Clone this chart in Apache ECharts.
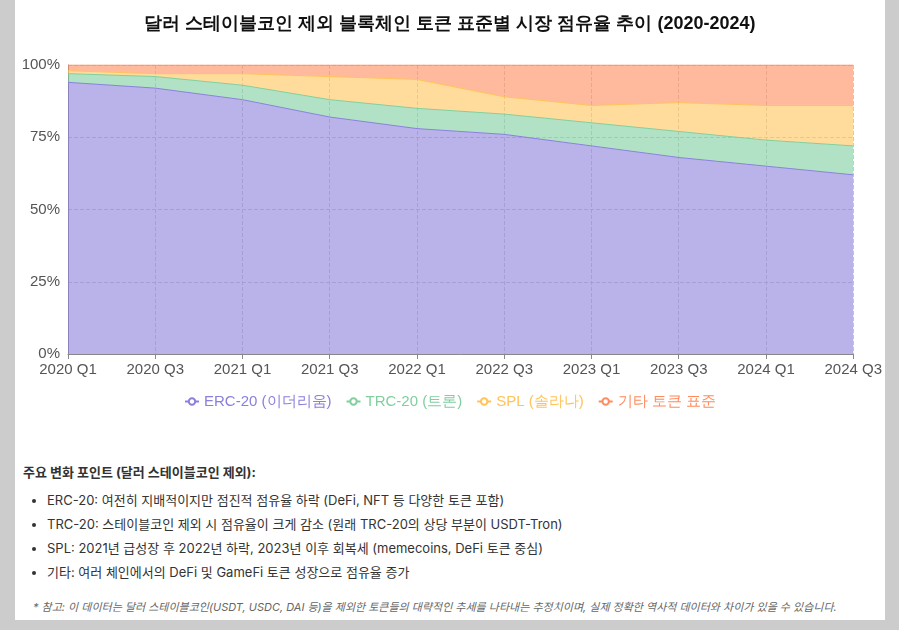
<!DOCTYPE html>
<html><head><meta charset="utf-8">
<script src="https://cdn.jsdelivr.net/npm/echarts@6/dist/echarts.min.js"></script>
<style>
html,body{margin:0;padding:0;background:#cccccc;font-family:Inter,"Noto Sans CJK KR",sans-serif;}
#card{position:absolute;left:15px;top:0;width:870px;height:620px;background:#fff;}
#chart{position:absolute;left:0;top:0;width:870px;height:420px;}
#notes{position:absolute;left:8px;top:462px;width:860px;font-size:13px;color:#333;}
#notes h4{margin:0 0 10px 0;font-size:13px;font-weight:bold;}
#notes ul{margin:0;padding-left:24px;}
#notes li{margin-bottom:6px;line-height:18px;}
#foot{position:absolute;left:18px;top:598px;font-size:11px;font-style:italic;color:#666;}
</style></head><body>
<div id="card"><div id="chart"></div>
<div id="notes"><h4>주요 변화 포인트 (달러 스테이블코인 제외):</h4>
<ul>
<li>ERC-20: 여전히 지배적이지만 점진적 점유율 하락 (DeFi, NFT 등 다양한 토큰 포함)</li>
<li>TRC-20: 스테이블코인 제외 시 점유율이 크게 감소 (원래 TRC-20의 상당 부분이 USDT-Tron)</li>
<li>SPL: 2021년 급성장 후 2022년 하락, 2023년 이후 회복세 (memecoins, DeFi 토큰 중심)</li>
<li>기타: 여러 체인에서의 DeFi 및 GameFi 토큰 성장으로 점유율 증가</li>
</ul></div>
<div id="foot">* 참고: 이 데이터는 달러 스테이블코인(USDT, USDC, DAI 등)을 제외한 토큰들의 대략적인 추세를 나타내는 추정치이며, 실제 정확한 역사적 데이터와 차이가 있을 수 있습니다.</div>
</div>
<script>
const categories=["2020 Q1","2020 Q3","2021 Q1","2021 Q3","2022 Q1","2022 Q3","2023 Q1","2023 Q3","2024 Q1","2024 Q3"];
const erc20=[94,92,88,82,78,76,72,68,65,62];
const trc20=[3,4,5,6,7,7,8,9,9,10];
const spl=[1,1,4,8,10,6,6,10,12,14];
const other=[2,3,3,4,5,11,14,13,14,14];
const names=["ERC-20 (이더리움)","TRC-20 (트론)","SPL (솔라나)","기타 토큰 표준"];
const colors=["#8a80dc","#7fcf9f","#ffc35a","#ff8c5e"];
const data=[erc20,trc20,spl,other];
const chart=echarts.init(document.getElementById('chart'));
chart.setOption({
 title:{text:"달러 스테이블코인 제외 블록체인 토큰 표준별 시장 점유율 추이 (2020-2024)",left:'center',top:10,textStyle:{fontSize:18,fontWeight:'bold',color:'#111'}},
 legend:{top:389,left:'center',itemGap:14,itemWidth:14,itemHeight:8,textStyle:{fontSize:15},data:names.map((n,i)=>({name:n,textStyle:{color:colors[i]}}))},
 grid:{left:53,right:25,top:65,bottom:66},
 xAxis:{type:'category',boundaryGap:false,data:categories,axisLabel:{fontSize:15,color:'#555'},axisLine:{lineStyle:{color:'#888'}},splitLine:{show:true,lineStyle:{type:'dashed',color:'#ccc'}}},
 yAxis:{type:'value',min:0,max:100,interval:25,axisLabel:{fontSize:15,color:'#555',formatter:'{value}%'},axisLine:{show:true,lineStyle:{color:'#888'}},splitLine:{lineStyle:{type:'dashed',color:'#ccc'}}},
 series:data.map((d,i)=>({name:names[i],type:'line',stack:'t',data:d,symbol:'emptyCircle',symbolSize:5,showSymbol:false,
  lineStyle:{width:1,color:colors[i]},itemStyle:{color:colors[i]},areaStyle:{color:colors[i],opacity:0.6}}))
});
</script></body></html>
